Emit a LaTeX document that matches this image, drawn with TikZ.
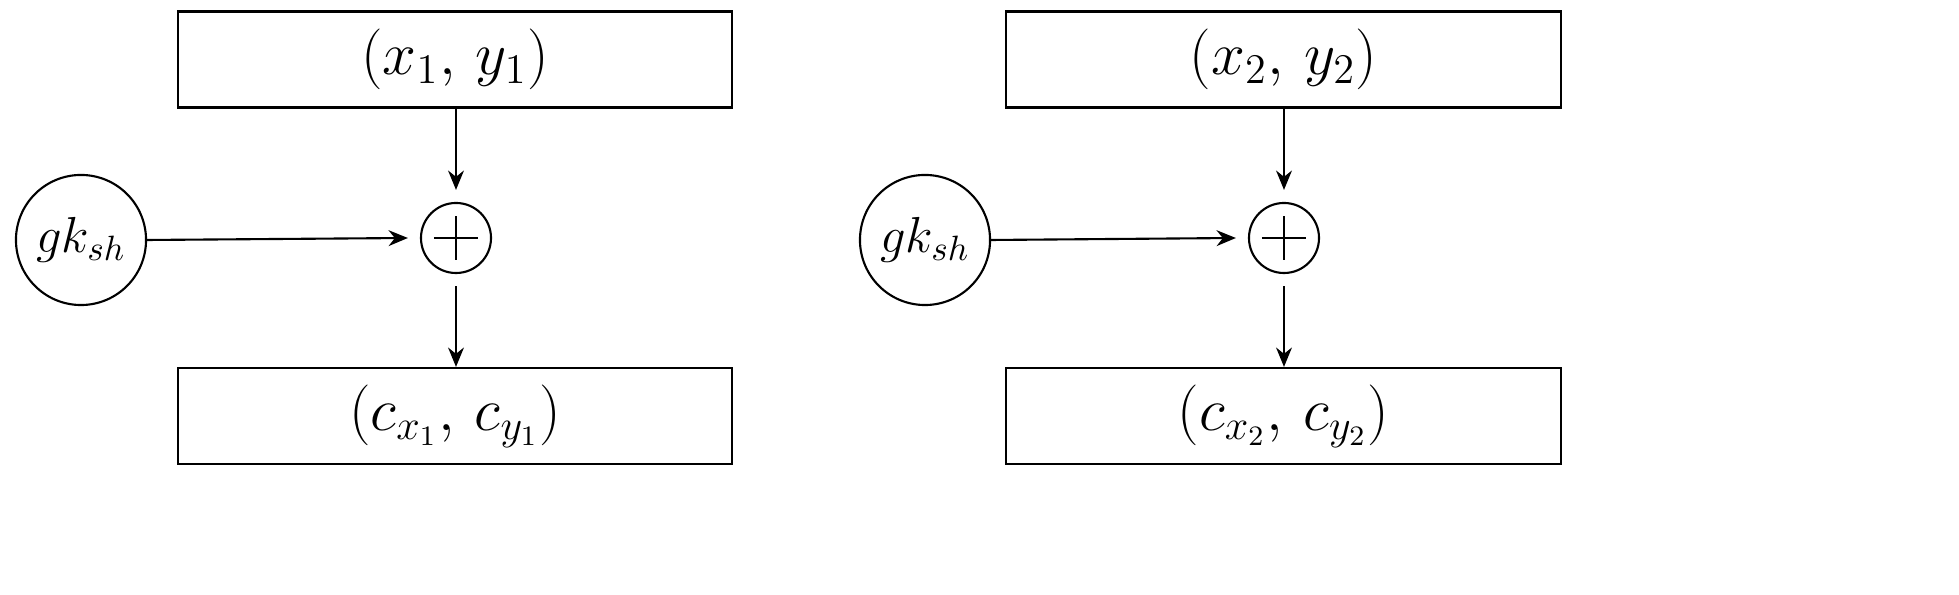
\documentclass[tikz,border=0pt]{standalone}
\usetikzlibrary{arrows.meta}
\begin{document}
\begin{tikzpicture}[x=0.01cm,y=-0.01cm,
 box/.style={draw,line width=0.6pt,minimum width=5.54cm,minimum height=0.96cm,font=\fontsize{17}{20}\selectfont},
 gk/.style={draw,circle,line width=0.6pt,minimum size=1.3cm,inner sep=0pt,font=\fontsize{14}{16}\selectfont},
 plus/.style={draw,circle,line width=0.6pt,minimum size=0.7cm,inner sep=0pt},
 arr/.style={-{Stealth[length=5.5pt,width=4.5pt]},line width=0.6pt}]
\useasboundingbox (0,0) rectangle (1959,595);
\foreach \i/\bx/\px/\gx in {1/455/456/81,2/1283.5/1284/925}{
 \node[box] (t\i) at (\bx,59.5) {$(x_\i,\,y_\i)$};
 \node[box] (b\i) at (\bx,416) {$\Big(c_{x_\i},\,c_{y_\i}\Big)$};
 \node[plus] (p\i) at (\px,238) {};
 \draw[line width=0.6pt] ([xshift=-0.22cm]p\i.center) -- ([xshift=0.22cm]p\i.center)
   ([yshift=-0.22cm]p\i.center) -- ([yshift=0.22cm]p\i.center);
 \node[gk] (g\i) at (\gx,240) {$gk_{sh}$};
 \draw[arr] (t\i.south -| p\i) -- ([yshift=0.12cm]p\i.north);
 \draw[arr] ([yshift=-0.12cm]p\i.south) -- (b\i.north -| p\i);
 \draw[arr] (g\i.east) -- ([xshift=-0.12cm]p\i.west);
}
\end{tikzpicture}
\end{document}
